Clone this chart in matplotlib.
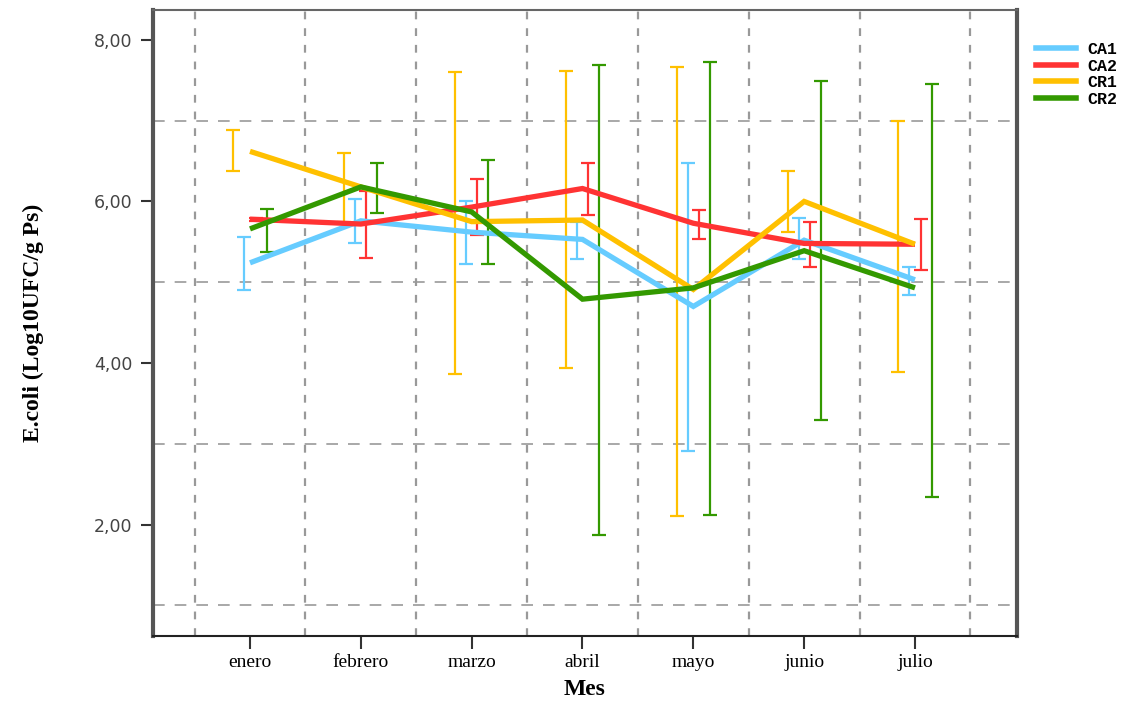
import matplotlib
matplotlib.use("Agg")
import matplotlib.pyplot as plt
from matplotlib.lines import Line2D
import numpy as np

months = ["enero", "febrero", "marzo", "abril", "mayo", "junio", "julio"]
series_names = ["CA1", "CA2", "CR1", "CR2"]

ca1_mean = [5.24, 5.76, 5.62, 5.53, 4.70, 5.52, 5.03]
ca1_lo = [4.90, 5.49, 5.22, 5.29, 2.91, 5.29, 4.84]
ca1_hi = [5.56, 6.03, 6.01, 5.75, 6.48, 5.79, 5.19]

ca2_mean = [5.78, 5.72, 5.93, 6.16, 5.73, 5.48, 5.47]
ca2_lo = [5.76, 5.30, 5.58, 5.83, 5.54, 5.19, 5.15]
ca2_hi = [5.80, 6.13, 6.28, 6.47, 5.90, 5.74, 5.78]

cr1_mean = [6.62, 6.18, 5.75, 5.77, 4.91, 6.00, 5.47]
cr1_lo = [6.38, 5.74, 3.86, 3.94, 2.11, 5.62, 3.89]
cr1_hi = [6.88, 6.60, 7.60, 7.62, 7.67, 6.38, 7.00]

cr2_mean = [5.66, 6.18, 5.87, 4.79, 4.93, 5.39, 4.93]
cr2_lo = [5.37, 5.86, 5.23, 1.87, 2.12, 3.29, 2.34]
cr2_hi = [5.91, 6.48, 6.51, 7.69, 7.73, 7.49, 7.46]

y_ticks = [2, 4, 6, 8]
y_ticklabels = ["2,00", "4,00", "6,00", "8,00"]

colors = {"CA1": "#66CCFF", "CA2": "#FF3333", "CR1": "#FFC000", "CR2": "#339900"}
offsets = {"CR1": -0.15, "CA1": -0.05, "CA2": 0.05, "CR2": 0.15}
data = {
    "CA1": (ca1_mean, ca1_lo, ca1_hi),
    "CA2": (ca2_mean, ca2_lo, ca2_hi),
    "CR1": (cr1_mean, cr1_lo, cr1_hi),
    "CR2": (cr2_mean, cr2_lo, cr2_hi),
}

fig = plt.figure(figsize=(11.42, 7.05), dpi=100)
ax = fig.add_axes([0.134, 0.0979, 0.7565, 0.8879])

x = np.arange(len(months))

# error bars (dodged)
for name in series_names:
    m, lo, hi = (np.array(v) for v in data[name])
    xe = x + offsets[name]
    ax.errorbar(xe, m, yerr=[m - lo, hi - m], fmt="none", ecolor=colors[name],
                elinewidth=1.6, capsize=5, capthick=1.6, zorder=3)

# mean lines
for name in series_names:
    m = data[name][0]
    ax.plot(x, m, color=colors[name], lw=3.8, solid_capstyle="butt",
            solid_joinstyle="miter", zorder=4)

ax.set_xlim(-0.875, 6.92)
ax.set_ylim(0.62, 8.37)

ax.set_yticks(y_ticks)
ax.set_yticklabels(y_ticklabels, fontsize=12.5, color="#444444",
                   family="DejaVu Sans")
ax.set_yticks([1, 3, 5, 7], minor=True)
ax.set_xticks(x)
ax.set_xticklabels(months, fontsize=14, family="Liberation Serif")
ax.set_xticks(np.arange(-0.5, 7.0, 1.0), minor=True)

ax.tick_params(axis="y", which="major", direction="out", length=9, width=1.5,
               color="#333333", pad=6)
ax.tick_params(axis="x", which="major", direction="out", length=9, width=1.5,
               color="#333333", pad=4)
ax.tick_params(which="minor", length=0)

ax.grid(False)
ax.yaxis.grid(True, which="minor", color="#999999", lw=1.2,
              linestyle=(0, (7, 6)), zorder=1)
ax.xaxis.grid(True, which="minor", color="#999999", lw=1.6,
              linestyle=(0, (3.5, 4)), zorder=1)

for side in ["left", "right"]:
    ax.spines[side].set_linewidth(3)
    ax.spines[side].set_color("#555555")
ax.spines["top"].set_linewidth(1.5)
ax.spines["top"].set_color("#666666")
ax.spines["bottom"].set_linewidth(1.5)
ax.spines["bottom"].set_color("#222222")

ax.set_xlabel("Mes", fontsize=17, fontweight="bold", family="Liberation Serif",
              labelpad=6)
ax.set_ylabel("E.coli (Log10UFC/g Ps)", fontsize=17, fontweight="bold",
              family="Liberation Serif", labelpad=36)

handles = [Line2D([0], [0], color=colors[n], lw=4) for n in series_names]
leg = fig.legend(handles, series_names, loc="upper left",
                 bbox_to_anchor=(0.901, 0.950), frameon=False,
                 prop={"family": "Liberation Mono", "weight": "bold", "size": 12},
                 handlelength=2.4, handletextpad=0.7, labelspacing=0.1,
                 borderaxespad=0)

fig.savefig("out.png", dpi=100)
